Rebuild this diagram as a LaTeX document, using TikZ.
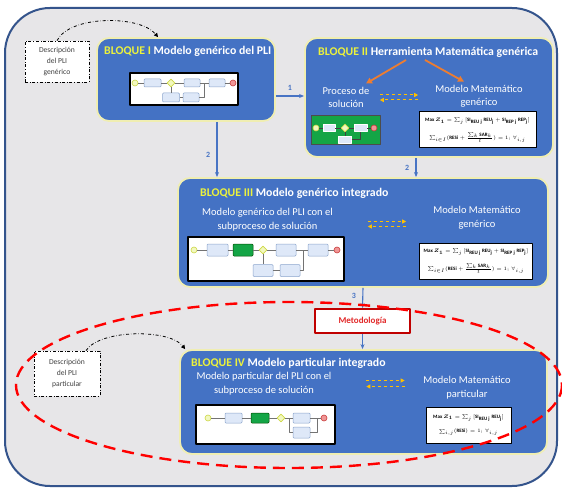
\documentclass[tikz,border=0pt]{standalone}
\usepackage{fontspec}
\setmainfont{Carlito}
\usepackage{amsmath}
\usetikzlibrary{arrows.meta,shapes.geometric,positioning}

\definecolor{bgGray}{RGB}{231,230,232}
\definecolor{frameBlue}{RGB}{52,84,140}
\definecolor{blockBlue}{RGB}{68,114,196}
\definecolor{blockEdge}{RGB}{240,238,178}
\definecolor{titleYel}{RGB}{236,242,60}
\definecolor{flowBlue}{RGB}{72,116,196}
\definecolor{arrOrange}{RGB}{237,125,49}
\definecolor{dashYel}{RGB}{255,192,0}
\definecolor{metRed}{RGB}{192,0,0}
\definecolor{metTxt}{RGB}{226,40,40}
\definecolor{ellRed}{RGB}{255,0,0}
\definecolor{taskFill}{RGB}{222,232,248}
\definecolor{taskEdge}{RGB}{140,165,205}
\definecolor{bpmnGreen}{RGB}{20,165,70}
\definecolor{startFill}{RGB}{242,248,190}
\definecolor{startEdge}{RGB}{205,215,70}
\definecolor{endFill}{RGB}{240,150,150}
\definecolor{endEdge}{RGB}{200,60,60}

\tikzset{
  bloque/.style={fill=blockBlue, draw=blockEdge, line width=1.8pt, rounded corners=12pt},
  titulo/.style={anchor=west, inner sep=0, text=white, font=\bfseries\fontsize{11.8}{13}\selectfont},
  subtxt/.style={text=white, align=center, font=\fontsize{10.5}{13.5}\selectfont},
  desc/.style={draw=black, dash dot, line width=.8pt, fill=white, align=center, text=black!75, font=\fontsize{7.6}{11}\selectfont},
  dd/.style={dash dot, line width=.8pt, -{Triangle[length=4pt,width=4pt]}},
  flow/.style={draw=flowBlue, line width=1.1pt, -{Stealth[length=5pt,width=4pt]}},
  flowlbl/.style={text=flowBlue, font=\bfseries\fontsize{8}{9}\selectfont},
  oflow/.style={draw=arrOrange, line width=1.8pt, -{Triangle[length=6pt,width=6pt]}},
  dflow/.style={draw=dashYel, dashed, line width=1pt, -{Triangle[length=4pt,width=4pt]}},
  dpair/.style={inner sep=0, minimum width=38, minimum height=5},
  metbox/.style={draw=metRed, line width=1.8pt, fill=white, text=metTxt, minimum width=95, minimum height=24, font=\bfseries\fontsize{9}{10}\selectfont},
  imgbox/.style={draw=black, line width=1.3pt, fill=white, inner sep=0},
  greenbox/.style={draw=black!70, line width=1pt, fill=bpmnGreen, inner sep=0},
  eqbox/.style={draw=black, line width=1pt, fill=white, inner sep=0, align=center, font=\fontsize{5}{6}\selectfont},
  task/.style={draw=taskEdge, fill=taskFill, line width=.5pt, rounded corners=1pt, inner sep=0},
  gtask/.style={draw=green!30!black, fill=bpmnGreen, line width=.5pt, rounded corners=1pt, inner sep=0},
  wtask/.style={draw=white, fill=taskFill, line width=.4pt, inner sep=0},
  startev/.style={circle, draw=startEdge, fill=startFill, line width=.6pt, minimum size=6, inner sep=0},
  endev/.style={circle, draw=endEdge, fill=endFill, line width=.6pt, minimum size=6, inner sep=0},
  gate/.style={diamond, draw=startEdge, fill=startFill, line width=.6pt, minimum size=8, inner sep=0},
  seq/.style={draw=black!55, line width=.4pt},
  gseq/.style={draw=black!75, line width=.6pt},
  ellred/.style={draw=ellRed, line width=2.4pt, dash pattern=on 12pt off 7pt}
}

\begin{document}
\begin{tikzpicture}[x=1pt, y=-1pt, line join=round]
\useasboundingbox (0,0) rectangle (562,489);
\fill[white] (0,0) rectangle (562,489);
\draw[frameBlue, line width=2pt, fill=bgGray, rounded corners=45] (5,8) rectangle (557,486);

% bloques
\node[bloque, minimum width=178, minimum height=83] (b1) at (186,79.5) {};
\node[bloque, minimum width=248, minimum height=119] (b2) at (429,97.5) {};
\node[bloque, minimum width=370, minimum height=109] (b3) at (363,232.5) {};
\node[bloque, minimum width=367, minimum height=104] (b4) at (363.5,402) {};
\node[metbox] (met) at (362.5,321) {Metodología};

\node[titulo] (t1) at (104,51) {\textcolor{titleYel}{BLOQUE I} Modelo genérico del PLI};
\node[titulo] (t2) at (318,52) {\textcolor{titleYel}{BLOQUE II} Herramienta Matemática genérica};
\node[titulo] (t3) at (200,193) {\textcolor{titleYel}{BLOQUE III} Modelo genérico integrado};
\node[titulo] (t4) at (191,363) {\textcolor{titleYel}{BLOQUE IV} Modelo particular integrado};

\node[subtxt] (ps) at (346,97.5) {Proceso de\\solución};
\node[subtxt] (mm2) at (479,96.5) {Modelo Matemático\\genérico};
\node[subtxt] (pl3) at (267.5,219.5) {Modelo genérico del PLI con el\\subproceso de solución};
\node[subtxt] (mm3) at (477,218) {Modelo Matemático\\genérico};
\node[subtxt] (pl4) at (264,383.5) {Modelo particular del PLI con el\\subproceso de solución};
\node[subtxt] (mm4) at (467,387.5) {Modelo Matemático\\particular};

% descripciones
\node[desc, minimum width=64, minimum height=41] (dg) at (57,61.5) {Descripción\\del PLI\\genérico};
\node[desc, minimum width=66, minimum height=45] (dp) at (67,373.5) {Descripción\\del PLI\\particular};
\draw[dd] (dg.north) .. controls (70,15) and (140,15) .. ([xshift=-28]b1.north);
\draw[dd] ([xshift=19]dp.north) .. controls (100,329) and (170,329) .. ([xshift=6]b4.north west);

% flujo entre bloques
\draw[flow] ([yshift=-16.5]b1.east) -- node[flowlbl, above=2pt] {1} ([yshift=1.5]b2.west);
\coordinate (s1) at ([xshift=31]b1.south);
\coordinate (s2) at ([xshift=-13]b2.south);
\draw[flow] (s1) -- node[flowlbl, left=3pt, pos=.6] {2} (s1 |- b3.north);
\draw[flow] (s2) -- node[flowlbl, left=3pt] {2} (s2 |- b3.north);
\draw[flow] (b3.south) -- node[flowlbl, left=3pt, pos=.4] {3} (met.north);
\draw[flow] (met.south) -- (met.south |- b4.north);

% bloque II
\coordinate (o1) at (406,60);
\coordinate (o2) at (425,60);
\draw[oflow] (o1) -- ([xshift=20]ps.north);
\draw[oflow] (o2) -- ([xshift=-15]mm2.north);
\node[dpair] (dd2) at (399,97.5) {};
\node[dpair] (dd3) at (387,224) {};
\node[dpair] (dd4) at (385.5,383.5) {};
\draw[dflow] ([yshift=2.5]dd2.west) -- ([yshift=2.5]dd2.east);
\draw[dflow] ([yshift=-2.5]dd2.east) -- ([yshift=-2.5]dd2.west);
\draw[dflow] ([yshift=2.5]dd3.west) -- ([yshift=2.5]dd3.east);
\draw[dflow] ([yshift=-2.5]dd3.east) -- ([yshift=-2.5]dd3.west);
\draw[dflow] ([yshift=3]dd4.west) -- ([yshift=3]dd4.east);
\draw[dflow] ([yshift=-3]dd4.east) -- ([yshift=-3]dd4.west);

% imagenes de los procesos
\node[imgbox, minimum width=108, minimum height=32] (i1) at (184,89) {};
\node[greenbox, minimum width=69, minimum height=29] (i2) at (345.5,130.5) {};
\node[imgbox, minimum width=156, minimum height=44] (i3) at (266,259) {};
\node[imgbox, minimum width=139, minimum height=39] (i4) at (265.5,424.5) {};

% PLI generico
\node[startev] (a0) at (135,83) {};
\node[task, minimum width=17, minimum height=8] (a1) at (152.5,83) {};
\node[gate] (a2) at (171,83) {};
\node[task, minimum width=16, minimum height=8] (a3) at (192,83) {};
\node[task, minimum width=16, minimum height=8] (a4) at (217,83) {};
\node[endev] (a5) at (233,83) {};
\node[task, minimum width=17, minimum height=9] (a6) at (171,97.5) {};
\node[task, minimum width=16, minimum height=9] (a7) at (191,97.5) {};
\coordinate (aj) at (204,83);
\draw[seq] (a0) -- (a1) (a1) -- (a2) (a2) -- (a3) (a3) -- (a4) (a4) -- (a5)
  (a2) -- (a6) (a6) -- (a7) (a7) -| (aj);

% proceso de solucion
\node[startev] (g0) at (316,128) {};
\node[wtask, minimum width=12, minimum height=7] (g1) at (329,128) {};
\node[gate] (g2) at (345,128) {};
\node[wtask, minimum width=13, minimum height=7] (g3) at (360.5,128) {};
\node[endev] (g4) at (374,128) {};
\node[wtask, minimum width=13, minimum height=7] (g5) at (345,139.5) {};
\draw[gseq] (g0) -- (g1) (g1) -- (g2) (g2) -- (g3) (g3) -- (g4)
  (g2) -- (g5) (g5) -| (g3);

% PLI generico con subproceso
\node[startev] (c0) at (194,250) {};
\node[task, minimum width=21, minimum height=12] (c1) at (217.5,250) {};
\node[gtask, minimum width=20, minimum height=12] (c2) at (243,250) {};
\node[gate] (c3) at (263,250) {};
\node[task, minimum width=20, minimum height=12] (c4) at (286,250) {};
\node[task, minimum width=20, minimum height=12] (c5) at (318,250) {};
\node[endev] (c6) at (337,250) {};
\node[task, minimum width=20, minimum height=12] (c7) at (263,270.5) {};
\node[task, minimum width=20, minimum height=12] (c8) at (290,270.5) {};
\coordinate (cj) at (303,250);
\draw[seq] (c0) -- (c1) (c1) -- (c2) (c2) -- (c3) (c3) -- (c4) (c4) -- (c5) (c5) -- (c6)
  (c3) -- (c7) (c7) -- (c8) (c8) -| (cj);

% PLI particular con subproceso
\node[startev] (d0) at (208,418) {};
\node[task, minimum width=17, minimum height=10] (d1) at (233.5,418) {};
\node[gtask, minimum width=18, minimum height=10] (d2) at (260,418) {};
\node[gate] (d3) at (281,418) {};
\node[task, minimum width=17, minimum height=10] (d4) at (301.5,418) {};
\node[endev] (d5) at (324,418) {};
\node[task, minimum width=17, minimum height=11] (d6) at (301.5,432.5) {};
\coordinate (dj1) at (289,418);
\coordinate (dj2) at (317,418);
\draw[seq] (d0) -- (d1) (d1) -- (d2) (d2) -- (d3) (d3) -- (d4) (d4) -- (d5)
  (dj1) |- (d6) (d6) -| (dj2);

% modelos matematicos
\node[eqbox, minimum width=117, minimum height=36] (e2) at (477.5,130)
  {$\mathbf{Max}\ \boldsymbol{Z_1}=\sum_j\,[\mathbf{SI_{REU\,j}\,REU_j}+\mathbf{SI_{REP\,j}\,REP_j}]$\\[7pt]
   $\sum_{i\in I}(\mathbf{RESi}+\tfrac{\sum_{k}\mathbf{SAR}_k}{t})=1;\ \forall_{i,j}$};
\node[eqbox, minimum width=113, minimum height=36] (e3) at (476,261)
  {$\mathbf{Max}\ \boldsymbol{Z_1}=\sum_j\,[\mathbf{SI_{REU\,j}\,REU_j}+\mathbf{SI_{REP\,j}\,REP_j}]$\\[7pt]
   $\sum_{i\in I}(\mathbf{RESi}+\tfrac{\sum_{k}\mathbf{SAR}_k}{t})=1;\ \forall_{i,j}$};
\node[eqbox, minimum width=85, minimum height=36] (e4) at (468.5,425)
  {$\mathbf{Max}\ \boldsymbol{Z_1}=\sum_j\,[\mathbf{SI_{REU\,j}\,REU_j}]$\\[7pt]
   $\sum_{i,j}(\mathbf{RESi})=1;\ \forall_{i,j}$};

\draw[ellred] (289,385) ellipse [x radius=273, y radius=83];
\end{tikzpicture}
\end{document}
